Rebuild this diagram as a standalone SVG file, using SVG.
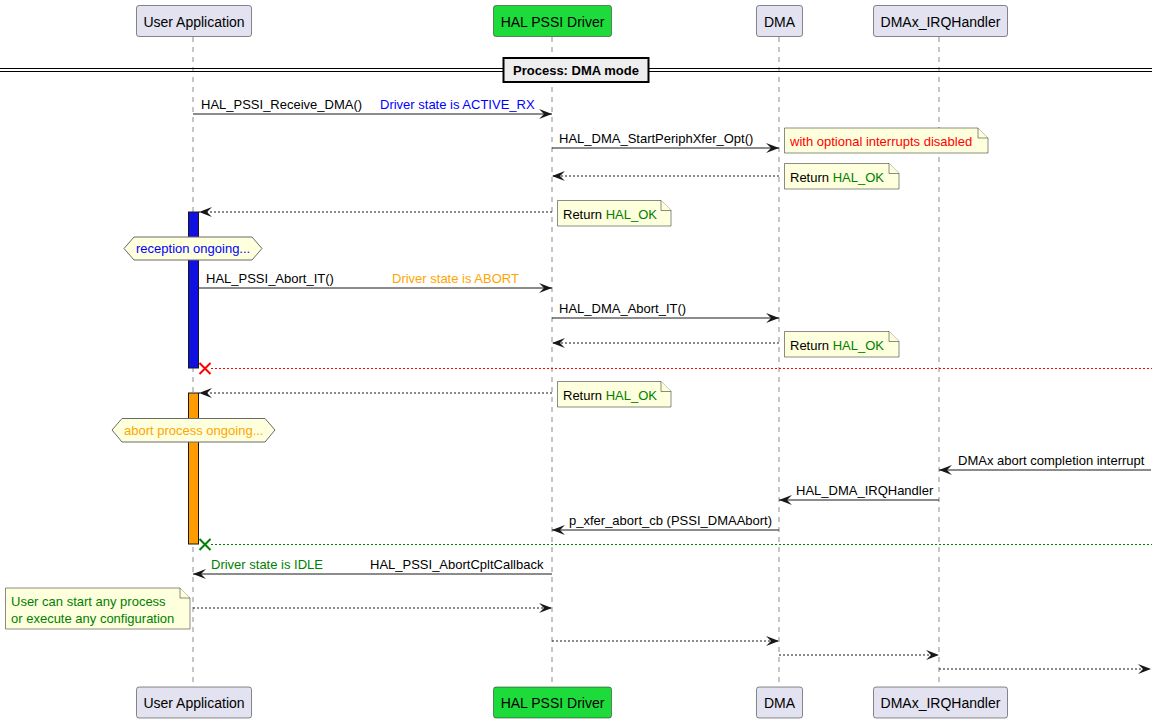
<svg xmlns="http://www.w3.org/2000/svg" width="1157" height="723" viewBox="0 0 1157 723">
<style>
text{font-family:"Liberation Sans",Arial,sans-serif;font-size:13px;fill:#000}
.pt{font-size:14px}
.part{fill:#E2E2F0;stroke:#181818;stroke-width:0.5}
.green{fill:#1EDB3C}
.life{stroke:#181818;stroke-width:0.5;stroke-dasharray:5,5;fill:none}
.msg{stroke:#181818;stroke-width:1;fill:none}
.dash{stroke-dasharray:2,2}
.note{fill:#FEFFDD;stroke:#181818;stroke-width:0.5}
.hex{fill:#FEFFDD;stroke:#6a6a6a;stroke-width:1}
.blue{fill:#0000FF}
.orange{fill:#FFA500}
.grn{fill:#008000}
.red{fill:#FF0000}
</style>
<defs>
<marker id="ah" viewBox="0 0 13 10" refX="13" refY="5" markerWidth="13" markerHeight="10" markerUnits="userSpaceOnUse" orient="auto"><path d="M0,0 L13,5 L0,10 L5,5 Z" fill="#181818"/></marker>
</defs>
<rect width="1157" height="723" fill="#FFFFFF"/>
<g id="lifelines">
<line class="life" x1="193" y1="37" x2="193" y2="687"/>
<line class="life" x1="552" y1="37" x2="552" y2="687"/>
<line class="life" x1="779" y1="37" x2="779" y2="687"/>
<line class="life" x1="939" y1="37" x2="939" y2="687"/>
</g>
<g id="divider">
<line x1="0" y1="68.5" x2="1152" y2="68.5" stroke="#000" stroke-width="1"/>
<line x1="0" y1="71.5" x2="1152" y2="71.5" stroke="#000" stroke-width="1"/>
<rect x="503.5" y="58" width="145" height="24" fill="#EEEEEE" stroke="#000" stroke-width="2"/>
<text x="576" y="74.5" text-anchor="middle" font-weight="bold" font-size="13.5">Process: DMA mode</text>
</g>
<g id="p_user_top"><rect class="part" x="136.5" y="5.5" width="115" height="31" rx="2.5"/><text class="pt" x="194" y="26.5" text-anchor="middle">User Application</text></g>
<g id="p_hal_top"><rect class="part green" x="493.5" y="5.5" width="118" height="31" rx="2.5"/><text class="pt" x="552.5" y="26.5" text-anchor="middle">HAL PSSI Driver</text></g>
<g id="p_dma_top"><rect class="part" x="756.5" y="5.5" width="46" height="31" rx="2.5"/><text class="pt" x="779.5" y="26.5" text-anchor="middle">DMA</text></g>
<g id="p_irq_top"><rect class="part" x="873.5" y="5.5" width="134" height="31" rx="2.5"/><text class="pt" x="940.5" y="26.5" text-anchor="middle">DMAx_IRQHandler</text></g>
<g id="p_user_bot"><rect class="part" x="136.5" y="687" width="115" height="31" rx="2.5"/><text class="pt" x="194" y="708" text-anchor="middle">User Application</text></g>
<g id="p_hal_bot"><rect class="part green" x="493.5" y="687" width="118" height="31" rx="2.5"/><text class="pt" x="552.5" y="708" text-anchor="middle">HAL PSSI Driver</text></g>
<g id="p_dma_bot"><rect class="part" x="756.5" y="687" width="46" height="31" rx="2.5"/><text class="pt" x="779.5" y="708" text-anchor="middle">DMA</text></g>
<g id="p_irq_bot"><rect class="part" x="873.5" y="687" width="134" height="31" rx="2.5"/><text class="pt" x="940.5" y="708" text-anchor="middle">DMAx_IRQHandler</text></g>
<g id="activations">
<rect x="188.5" y="212" width="10" height="156" fill="#1010E0" stroke="#181818" stroke-width="1"/>
<rect x="188.5" y="393" width="10" height="151" fill="#FF9D00" stroke="#181818" stroke-width="1"/>
</g>
<g id="connectors">
<line class="msg" x1="193" y1="114" x2="552" y2="114" marker-end="url(#ah)"/>
<line class="msg" x1="552" y1="148" x2="779" y2="148" marker-end="url(#ah)"/>
<line class="msg dash" x1="779" y1="176" x2="552" y2="176" marker-end="url(#ah)"/>
<line class="msg dash" x1="552" y1="212" x2="199" y2="212" marker-end="url(#ah)"/>
<line class="msg" x1="199" y1="288" x2="552" y2="288" marker-end="url(#ah)"/>
<line class="msg" x1="552" y1="318" x2="779" y2="318" marker-end="url(#ah)"/>
<line class="msg dash" x1="779" y1="343" x2="552" y2="343" marker-end="url(#ah)"/>
<line x1="211" y1="368.5" x2="1152" y2="368.5" stroke="#FF0000" stroke-width="1" stroke-dasharray="2,2"/>
<path d="M199.5,363 L210.5,374 M199.5,374 L210.5,363" stroke="#FF0000" stroke-width="2" fill="none"/>
<line class="msg dash" x1="552" y1="393" x2="199" y2="393" marker-end="url(#ah)"/>
<line class="msg" x1="1151" y1="470" x2="939" y2="470" marker-end="url(#ah)"/>
<line class="msg" x1="939" y1="500" x2="779" y2="500" marker-end="url(#ah)"/>
<line class="msg" x1="779" y1="530" x2="552" y2="530" marker-end="url(#ah)"/>
<line x1="211" y1="544.5" x2="1152" y2="544.5" stroke="#008000" stroke-width="1" stroke-dasharray="2,2"/>
<path d="M199.5,539 L210.5,550 M199.5,550 L210.5,539" stroke="#008000" stroke-width="2" fill="none"/>
<line class="msg" x1="552" y1="574" x2="193" y2="574" marker-end="url(#ah)"/>
<line class="msg dash" x1="193" y1="608" x2="552" y2="608" marker-end="url(#ah)"/>
<line class="msg dash" x1="552" y1="641" x2="779" y2="641" marker-end="url(#ah)"/>
<line class="msg dash" x1="779" y1="655" x2="939" y2="655" marker-end="url(#ah)"/>
<line class="msg dash" x1="939" y1="669" x2="1151" y2="669" marker-end="url(#ah)"/>
</g>
<g id="labels">
<text x="201" y="109">HAL_PSSI_Receive_DMA()</text>
<text x="380" y="109" class="blue">Driver state is ACTIVE_RX</text>
<text x="559" y="143">HAL_DMA_StartPeriphXfer_Opt()</text>
<text x="206" y="283">HAL_PSSI_Abort_IT()</text>
<text x="392" y="283" class="orange">Driver state is ABORT</text>
<text x="559" y="313">HAL_DMA_Abort_IT()</text>
<text x="958" y="465">DMAx abort completion interrupt</text>
<text x="796" y="495">HAL_DMA_IRQHandler</text>
<text x="569" y="525">p_xfer_abort_cb (PSSI_DMAAbort)</text>
<text x="211" y="569" class="grn">Driver state is IDLE</text>
<text x="370" y="569">HAL_PSSI_AbortCpltCallback</text>
</g>
<g id="note1"><path class="note" d="M784.5,128 L784.5,153 L988,153 L988,138 L978,128 Z"/><path class="note" d="M978,128 L978,138 L988,138" fill="none"/><text x="790" y="146" class="red">with optional interrupts disabled</text></g>
<g id="note2"><path class="note" d="M784.5,163.5 L784.5,189 L899,189 L899,173.5 L889,163.5 Z"/><path class="note" d="M889,163.5 L889,173.5 L899,173.5" fill="none"/><text x="790" y="182">Return <tspan class="grn">HAL_OK</tspan></text></g>
<g id="note3"><path class="note" d="M557.5,200.5 L557.5,226 L671,226 L671,210.5 L661,200.5 Z"/><path class="note" d="M661,200.5 L661,210.5 L671,210.5" fill="none"/><text x="563" y="219">Return <tspan class="grn">HAL_OK</tspan></text></g>
<g id="hex1"><polygon class="hex" points="124,248.5 134,237 252,237 262,248.5 252,260 134,260"/><text x="136" y="253" class="blue">reception ongoing...</text></g>
<g id="note4"><path class="note" d="M784.5,331.5 L784.5,357 L899,357 L899,341.5 L889,331.5 Z"/><path class="note" d="M889,331.5 L889,341.5 L899,341.5" fill="none"/><text x="790" y="350">Return <tspan class="grn">HAL_OK</tspan></text></g>
<g id="note5"><path class="note" d="M557.5,381.5 L557.5,407 L671,407 L671,391.5 L661,381.5 Z"/><path class="note" d="M661,381.5 L661,391.5 L671,391.5" fill="none"/><text x="563" y="400">Return <tspan class="grn">HAL_OK</tspan></text></g>
<g id="hex2"><polygon class="hex" points="112,430 122,418.5 265,418.5 275,430 265,442 122,442"/><text x="124" y="435" class="orange">abort process ongoing...</text></g>
<g id="note6"><path class="note" d="M5.5,588 L5.5,629 L190,629 L190,598 L180,588 Z"/><path class="note" d="M180,588 L180,598 L190,598" fill="none"/><text x="11" y="606" class="grn">User can start any process</text><text x="11" y="623" class="grn">or execute any configuration</text></g>
</svg>
